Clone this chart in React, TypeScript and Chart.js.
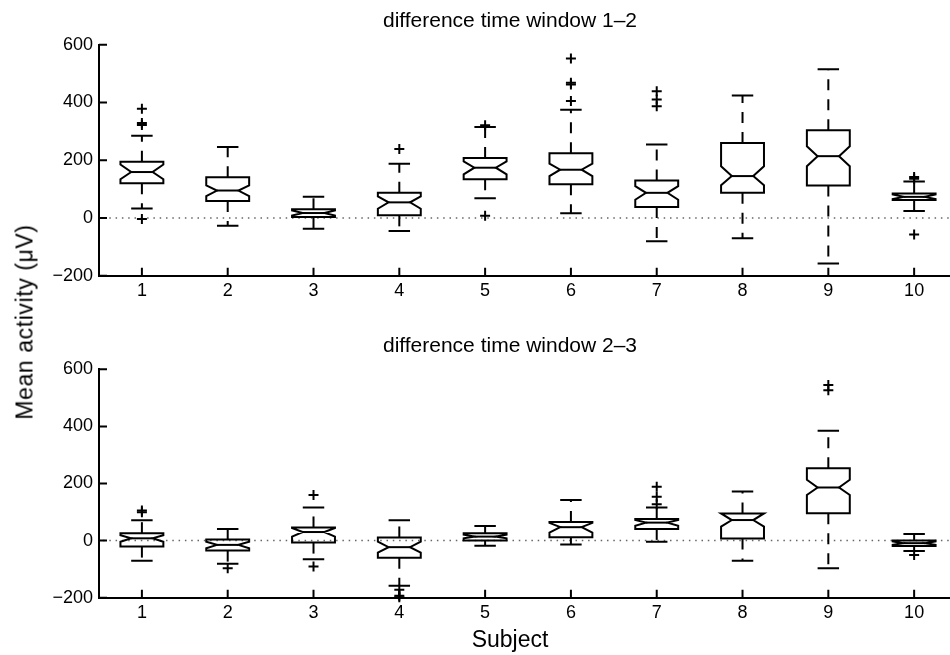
import React, { useEffect, useRef } from 'react';
import { Chart, registerables } from 'chart.js';

Chart.register(...registerables);

// ---------- data ----------
const subjects = ['1', '2', '3', '4', '5', '6', '7', '8', '9', '10'];
const yTickValues = [-200, 0, 200, 400, 600];

// difference time window 1–2
const w12WhiskerLow = [33, -27, -37, -45, 68, 16, -81, -70, -158, 24];
const w12Q1 = [120, 59, 3, 9, 134, 117, 38, 87, 112, 62];
const w12Median = [159, 95, 17, 54, 174, 167, 87, 145, 214, 73];
const w12Q3 = [195, 141, 30, 87, 208, 224, 130, 260, 304, 85];
const w12WhiskerHigh = [285, 246, 73, 188, 315, 375, 254, 424, 515, 126];
const w12NotchLow = [134, 76, 8, 32, 151, 145, 63, 113, 179, 65];
const w12NotchHigh = [185, 113, 26, 75, 196, 188, 110, 179, 248, 81];
const w12Outliers = [
  [378, 329, 322, -4],
  [],
  [],
  [239],
  [321, 8],
  [552, 468, 462, 405],
  [439, 410, 387],
  [],
  [],
  [142, 136, -57],
];

// difference time window 2–3
const w23WhiskerLow = [-71, -81, -65, -158, -18, -14, -4, -71, -97, -36];
const w23Q1 = [-21, -35, -7, -60, 0, 12, 41, 7, 96, -19];
const w23Median = [8, -15, 30, -23, 14, 47, 63, 72, 186, -9];
const w23Q3 = [26, 4, 46, 11, 26, 65, 76, 95, 253, 0];
const w23WhiskerHigh = [71, 41, 116, 71, 51, 142, 116, 172, 385, 23];
const w23NotchLow = [-4, -27, 14, -42, 8, 28, 52, 49, 160, -15];
const w23NotchHigh = [19, -4, 44, -4, 21, 62, 72, 95, 213, -3];
const w23Outliers = [
  [105, 99],
  [-97],
  [160, -91],
  [-172, -193, -198],
  [],
  [],
  [189, 154, 127],
  [],
  [545, 527],
  [-50],
];

// ---------- helpers ----------
const FONT = "'Liberation Sans', Arial, Helvetica, sans-serif";
const CANVAS_W = 957;

type Stats = {
  wLo: number[];
  q1: number[];
  med: number[];
  q3: number[];
  wHi: number[];
  nLo: number[];
  nHi: number[];
};

function outlierPoints(out: number[][]) {
  const pts: { x: number; y: number }[] = [];
  out.forEach((arr, i) => arr.forEach((v) => pts.push({ x: i + 1, y: v })));
  return pts;
}

function fmtY(v: number) {
  return v < 0 ? '\u2212' + Math.abs(v) : String(v);
}

function boxPlugin(id: string, s: Stats) {
  return {
    id,
    afterLayout(chart: any) {
      // let the y tick labels use the space left of the axis box (no clipping)
      chart.scales.y.left = 0;
    },
    beforeDatasetsDraw(chart: any) {
      const { ctx, chartArea } = chart;
      const ys = chart.scales.y;
      const y0 = ys.getPixelForValue(0);
      ctx.save();
      ctx.strokeStyle = '#666';
      ctx.lineWidth = 1.5;
      ctx.setLineDash([1.5, 4.8]);
      ctx.beginPath();
      ctx.moveTo(chartArea.left + 4, y0);
      ctx.lineTo(chartArea.right, y0);
      ctx.stroke();
      ctx.restore();
    },
    afterDatasetsDraw(chart: any) {
      const { ctx } = chart;
      const xs = chart.scales.x;
      const ys = chart.scales.y;
      ctx.save();
      ctx.strokeStyle = '#000';
      ctx.lineWidth = 2;
      ctx.lineJoin = 'miter';
      for (let i = 0; i < s.med.length; i++) {
        const cx = xs.getPixelForValue(i + 1);
        const hw = xs.getPixelForValue(i + 1.25) - cx;
        const nw = hw / 2;
        const cw = hw / 2;
        const pWLo = ys.getPixelForValue(s.wLo[i]);
        const pQ1 = ys.getPixelForValue(s.q1[i]);
        const pMed = ys.getPixelForValue(s.med[i]);
        const pQ3 = ys.getPixelForValue(s.q3[i]);
        const pWHi = ys.getPixelForValue(s.wHi[i]);
        const pNLo = ys.getPixelForValue(s.nLo[i]);
        const pNHi = ys.getPixelForValue(s.nHi[i]);

        // whiskers (dashed)
        ctx.setLineDash([11, 9]);
        ctx.beginPath();
        ctx.moveTo(cx, pQ3);
        ctx.lineTo(cx, pWHi);
        ctx.stroke();
        ctx.beginPath();
        ctx.moveTo(cx, pQ1);
        ctx.lineTo(cx, pWLo);
        ctx.stroke();
        ctx.setLineDash([]);

        // caps
        ctx.beginPath();
        ctx.moveTo(cx - cw, pWHi);
        ctx.lineTo(cx + cw, pWHi);
        ctx.moveTo(cx - cw, pWLo);
        ctx.lineTo(cx + cw, pWLo);
        ctx.stroke();

        // notched box
        ctx.beginPath();
        ctx.moveTo(cx - hw, pQ3);
        ctx.lineTo(cx + hw, pQ3);
        ctx.lineTo(cx + hw, pNHi);
        ctx.lineTo(cx + nw, pMed);
        ctx.lineTo(cx + hw, pNLo);
        ctx.lineTo(cx + hw, pQ1);
        ctx.lineTo(cx - hw, pQ1);
        ctx.lineTo(cx - hw, pNLo);
        ctx.lineTo(cx - nw, pMed);
        ctx.lineTo(cx - hw, pNHi);
        ctx.closePath();
        ctx.stroke();

        // median
        ctx.beginPath();
        ctx.moveTo(cx - nw, pMed);
        ctx.lineTo(cx + nw, pMed);
        ctx.stroke();
      }
      ctx.restore();
    },
    afterDraw(chart: any) {
      const { ctx, chartArea } = chart;
      const xs = chart.scales.x;
      const ys = chart.scales.y;
      ctx.save();
      ctx.strokeStyle = '#000';
      ctx.lineWidth = 2;
      ctx.beginPath();
      ys.ticks.forEach((t: any) => {
        const p = ys.getPixelForValue(t.value);
        ctx.moveTo(chartArea.left, p);
        ctx.lineTo(chartArea.left + 8, p);
      });
      xs.ticks.forEach((t: any) => {
        const p = xs.getPixelForValue(t.value);
        ctx.moveTo(p, chartArea.bottom);
        ctx.lineTo(p, chartArea.bottom - 8);
      });
      ctx.stroke();
      ctx.restore();
    },
  };
}

function makeConfig(
  title: string,
  stats: Stats,
  outliers: number[][],
  titlePad: { top: number; bottom: number },
  xHeight: number,
  withSubject: boolean,
  pluginId: string
): any {
  return {
    type: 'scatter',
    data: {
      datasets: [
        {
          data: outlierPoints(outliers),
          pointStyle: 'cross',
          radius: 5,
          hoverRadius: 5,
          borderColor: '#000',
          backgroundColor: '#000',
          borderWidth: 2,
          clip: 8,
        },
      ],
    },
    options: {
      animation: false,
      responsive: false,
      events: [],
      layout: { padding: { left: 63, right: 0, top: 0, bottom: 0 } },
      plugins: {
        legend: { display: false },
        tooltip: { enabled: false },
        title: {
          display: true,
          text: title,
          color: '#000',
          font: { family: FONT, size: 21, weight: 'normal' },
          padding: titlePad,
        },
        subtitle: {
          display: withSubject,
          text: 'Subject',
          position: 'bottom',
          color: '#000',
          font: { family: FONT, size: 23, weight: 'normal' },
          padding: { top: 0, bottom: 0.4 },
        },
      },
      scales: {
        x: {
          type: 'linear',
          min: 0.5,
          max: 10.418,
          afterBuildTicks: (sc: any) => {
            sc.ticks = subjects.map((_, i) => ({ value: i + 1 }));
          },
          afterFit: (sc: any) => {
            sc.height = xHeight;
            sc.paddingLeft = 0;
            sc.paddingRight = 0;
          },
          ticks: {
            callback: (v: any) => subjects[Math.round(v) - 1],
            color: '#000',
            font: { family: FONT, size: 18 },
            padding: 5,
            autoSkip: false,
            maxRotation: 0,
          },
          grid: { display: false, drawTicks: false },
          border: { display: true, color: '#000', width: 2 },
        },
        y: {
          min: -200,
          max: 600,
          afterBuildTicks: (sc: any) => {
            sc.ticks = yTickValues.map((v) => ({ value: v }));
          },
          afterFit: (sc: any) => {
            sc.width = 36;
          },
          ticks: {
            callback: (v: any) => fmtY(v),
            color: '#000',
            font: { family: FONT, size: 18 },
            padding: 6,
          },
          grid: { display: false, drawTicks: false },
          border: { display: true, color: '#000', width: 2 },
        },
      },
    },
    plugins: [boxPlugin(pluginId, stats)],
  };
}

export default function App() {
  const topRef = useRef<HTMLCanvasElement | null>(null);
  const botRef = useRef<HTMLCanvasElement | null>(null);

  useEffect(() => {
    const top = new Chart(
      topRef.current as HTMLCanvasElement,
      makeConfig(
        'difference time window 1\u20132',
        {
          wLo: w12WhiskerLow,
          q1: w12Q1,
          med: w12Median,
          q3: w12Q3,
          wHi: w12WhiskerHigh,
          nLo: w12NotchLow,
          nHi: w12NotchHigh,
        },
        w12Outliers,
        { top: 9.1, bottom: 10.4 },
        54.3,
        false,
        'boxTop'
      )
    );
    const bot = new Chart(
      botRef.current as HTMLCanvasElement,
      makeConfig(
        'difference time window 2\u20133',
        {
          wLo: w23WhiskerLow,
          q1: w23Q1,
          med: w23Median,
          q3: w23Q3,
          wHi: w23WhiskerHigh,
          nLo: w23NotchLow,
          nHi: w23NotchHigh,
        },
        w23Outliers,
        { top: 3.7, bottom: 10.4 },
        29.3,
        true,
        'boxBot'
      )
    );
    return () => {
      top.destroy();
      bot.destroy();
    };
  }, []);

  return (
    <div
      style={{
        position: 'absolute',
        left: 0,
        top: 0,
        width: 950,
        height: 655,
        background: '#fff',
        overflow: 'hidden',
      }}
    >
      <canvas
        ref={topRef}
        width={CANVAS_W}
        height={330}
        style={{ position: 'absolute', left: 0, top: 0, width: CANVAS_W, height: 330 }}
      />
      <canvas
        ref={botRef}
        width={CANVAS_W}
        height={325}
        style={{ position: 'absolute', left: 0, top: 330, width: CANVAS_W, height: 325 }}
      />
      <div
        style={{
          position: 'absolute',
          left: 25,
          top: 321.7,
          transform: 'translate(-50%, -50%) rotate(-90deg)',
          fontFamily: FONT,
          fontSize: 23,
          letterSpacing: 0.6,
          color: '#000',
          whiteSpace: 'nowrap',
          lineHeight: 1,
        }}
      >
        Mean activity (μV)
      </div>
    </div>
  );
}
